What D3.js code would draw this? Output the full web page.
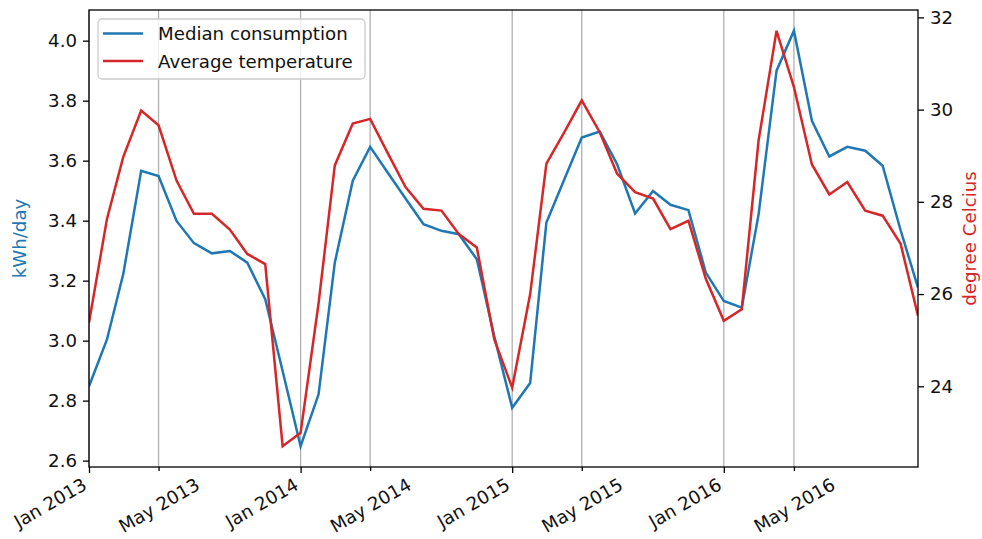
<!DOCTYPE html>
<html>
<head>
<meta charset="utf-8">
<script src="https://cdn.jsdelivr.net/npm/d3@7"></script>
<style>
  body { margin: 0; background: #fff; }
  text { font-family: "DejaVu Sans", sans-serif; }
</style>
</head>
<body>
<svg id="chart" width="982" height="539"></svg>
<script>
// Monthly observations, Jan 2013 – Dec 2016
const months = [
  "2013-01","2013-02","2013-03","2013-04","2013-05","2013-06","2013-07","2013-08","2013-09","2013-10","2013-11","2013-12",
  "2014-01","2014-02","2014-03","2014-04","2014-05","2014-06","2014-07","2014-08","2014-09","2014-10","2014-11","2014-12",
  "2015-01","2015-02","2015-03","2015-04","2015-05","2015-06","2015-07","2015-08","2015-09","2015-10","2015-11","2015-12",
  "2016-01","2016-02","2016-03","2016-04","2016-05","2016-06","2016-07","2016-08","2016-09","2016-10","2016-11","2016-12"
];

// Median household electricity consumption (kWh/day)
const consumption = [
  2.848, 3.004, 3.221, 3.566, 3.549, 3.399, 3.325, 3.291, 3.299, 3.260, 3.138, 2.899,
  2.648, 2.821, 3.260, 3.533, 3.646, 3.558, 3.474, 3.388, 3.366, 3.355, 3.271, 3.015,
  2.776, 2.859, 3.394, 3.538, 3.677, 3.697, 3.588, 3.424, 3.499, 3.453, 3.435, 3.227,
  3.132, 3.110, 3.421, 3.900, 4.033, 3.733, 3.614, 3.646, 3.633, 3.583, 3.368, 3.177
];

// Average monthly temperature (degrees Celsius)
const temperature = [
  25.38, 27.63, 28.97, 29.98, 29.66, 28.46, 27.74, 27.74, 27.40, 26.87, 26.65, 22.70,
  22.99, 25.80, 28.79, 29.70, 29.80, 29.04, 28.32, 27.85, 27.81, 27.30, 27.01, 25.02,
  23.97, 26.00, 28.83, 29.51, 30.20, 29.51, 28.61, 28.21, 28.07, 27.41, 27.59, 26.33,
  25.42, 25.67, 29.33, 31.71, 30.49, 28.81, 28.16, 28.43, 27.81, 27.70, 27.09, 25.53
];

const majorTickMonths = ["2013-01", "2014-01", "2015-01", "2016-01"];
const minorTickMonths = ["2013-05", "2014-05", "2015-05", "2016-05"];
const leftTicks = [2.6, 2.8, 3.0, 3.2, 3.4, 3.6, 3.8, 4.0];
const rightTicks = [24, 26, 28, 30, 32];
const seriesNames = ["Median consumption", "Average temperature"];
const leftLabel = "kWh/day";
const rightLabel = "degree Celcius";

const COLOR_BLUE = "#1f77b4";
const COLOR_RED = "#d62728";
const FONT = 18.2;

const parseMonth = d3.timeParse("%Y-%m");
const dates = months.map(parseMonth);

const svg = d3.select("#chart");
const margin = { left: 89, right: 64, top: 10, bottom: 72 };
const W = 982, H = 539;
const x0 = margin.left, x1 = W - margin.right;
const y0 = margin.top, y1 = H - margin.bottom;

// Pad a data extent by 5% on each side
function padded(values) {
  const [lo, hi] = d3.extent(values);
  const m = (hi - lo) * 0.05;
  return [lo - m, hi + m];
}

const x = d3.scaleTime().domain(d3.extent(dates)).range([x0, x1]);
const yL = d3.scaleLinear().domain(padded(consumption)).range([y1, y0]);
const yR = d3.scaleLinear().domain(padded(temperature)).range([y1, y0]);

svg.append("rect").attr("width", W).attr("height", H).attr("fill", "#fff");

// Vertical grid at every labelled month
const gridDates = majorTickMonths.concat(minorTickMonths).map(parseMonth);
svg.append("g").selectAll("line").data(gridDates).join("line")
  .attr("x1", d => x(d)).attr("x2", d => x(d))
  .attr("y1", y0).attr("y2", y1)
  .attr("stroke", "#b0b0b0").attr("stroke-width", 1.3);

// Series lines
svg.append("clipPath").attr("id", "plotclip")
  .append("rect").attr("x", x0).attr("y", y0).attr("width", x1 - x0).attr("height", y1 - y0);

const lineL = d3.line().x((d, i) => x(dates[i])).y(d => yL(d));
const lineR = d3.line().x((d, i) => x(dates[i])).y(d => yR(d));

svg.append("path").datum(consumption)
  .attr("d", lineL).attr("fill", "none")
  .attr("stroke", COLOR_BLUE).attr("stroke-width", 2.5)
  .attr("stroke-linejoin", "miter").attr("clip-path", "url(#plotclip)");

svg.append("path").datum(temperature)
  .attr("d", lineR).attr("fill", "none")
  .attr("stroke", COLOR_RED).attr("stroke-width", 2.5)
  .attr("stroke-linejoin", "miter").attr("clip-path", "url(#plotclip)");

// Axes
const fmtMonth = d3.timeFormat("%b %Y");

function styleAxis(g) {
  g.select(".domain").remove();
  g.selectAll(".tick line").attr("stroke", "#000").attr("stroke-width", 1.3);
  g.selectAll(".tick text").attr("fill", "#111")
    .style("font-size", FONT + "px").style("font-family", '"DejaVu Sans", sans-serif');
}

// Rotated month labels: major ones right-aligned to the tick, minor ones centred
function rotateLabels(g, alignRight) {
  const top = 8;
  const a = Math.PI / 6;
  g.selectAll(".tick text").each(function () {
    const t = d3.select(this);
    const w = this.getComputedTextLength();
    const h = FONT * 1.0;
    const bw = w * Math.cos(a) + h * Math.sin(a);
    const bh = w * Math.sin(a) + h * Math.cos(a);
    const cx = alignRight ? -bw / 2 : 0;
    const cy = top + bh / 2;
    t.attr("text-anchor", "middle").attr("x", 0).attr("y", 0)
      .attr("dy", (FONT * 0.346).toFixed(2))
      .attr("transform", `translate(${cx},${cy}) rotate(-30)`);
  });
}

const gMajor = svg.append("g").attr("transform", `translate(0,${y1})`)
  .call(d3.axisBottom(x).tickValues(majorTickMonths.map(parseMonth))
    .tickFormat(fmtMonth).tickSize(6).tickSizeOuter(0));
styleAxis(gMajor);
rotateLabels(gMajor, true);

const gMinor = svg.append("g").attr("transform", `translate(0,${y1})`)
  .call(d3.axisBottom(x).tickValues(minorTickMonths.map(parseMonth))
    .tickFormat(fmtMonth).tickSize(4).tickSizeOuter(0));
styleAxis(gMinor);
rotateLabels(gMinor, false);

const gLeft = svg.append("g").attr("transform", `translate(${x0},0)`)
  .call(d3.axisLeft(yL).tickValues(leftTicks).tickFormat(d3.format(".1f"))
    .tickSize(6).tickPadding(6).tickSizeOuter(0));
styleAxis(gLeft);

const gRight = svg.append("g").attr("transform", `translate(${x1},0)`)
  .call(d3.axisRight(yR).tickValues(rightTicks).tickFormat(d3.format("d"))
    .tickSize(6).tickPadding(6).tickSizeOuter(0));
styleAxis(gRight);

// Frame
svg.append("rect").attr("x", x0).attr("y", y0)
  .attr("width", x1 - x0).attr("height", y1 - y0)
  .attr("fill", "none").attr("stroke", "#000").attr("stroke-width", 1.3);

// Axis titles
svg.append("text")
  .attr("transform", `translate(26,${(y0 + y1) / 2}) rotate(-90)`)
  .attr("text-anchor", "middle").attr("fill", COLOR_BLUE)
  .style("font-size", FONT + "px").text(leftLabel);

svg.append("text")
  .attr("transform", `translate(976,${(y0 + y1) / 2}) rotate(-90)`)
  .attr("text-anchor", "middle").attr("fill", COLOR_RED)
  .style("font-size", FONT + "px").text(rightLabel);

// Legend
const legend = svg.append("g");
legend.append("rect")
  .attr("x", 98).attr("y", 19).attr("width", 267).attr("height", 60)
  .attr("rx", 4).attr("fill", "#fff").attr("fill-opacity", 0.8)
  .attr("stroke", "#cccccc").attr("stroke-width", 1.3);

const legendItems = [
  { name: seriesNames[0], color: COLOR_BLUE },
  { name: seriesNames[1], color: COLOR_RED }
];
const rowY = d3.scalePoint().domain(legendItems.map(d => d.name)).range([33.5, 61]);
legend.selectAll("line.handle").data(legendItems).join("line")
  .attr("class", "handle")
  .attr("x1", 103).attr("x2", 143)
  .attr("y1", d => rowY(d.name)).attr("y2", d => rowY(d.name))
  .attr("stroke", d => d.color).attr("stroke-width", 2.5);
legend.selectAll("text").data(legendItems).join("text")
  .attr("x", 158).attr("y", d => rowY(d.name) + 6.5)
  .attr("fill", "#111").style("font-size", FONT + "px")
  .text(d => d.name);
</script>
</body>
</html>
